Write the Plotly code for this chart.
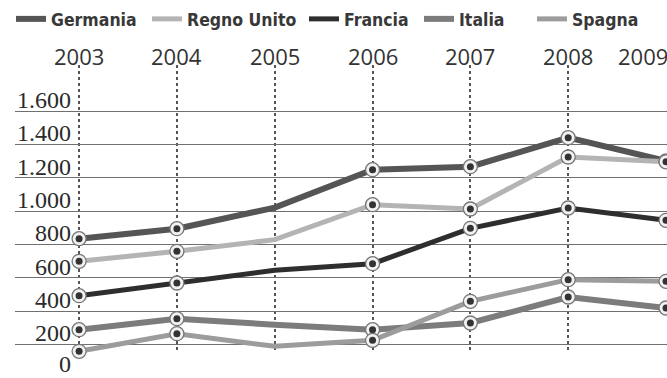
import plotly.graph_objects as go

years = [2003, 2004, 2005, 2006, 2007, 2008, 2009]
year_labels = ["2003", "2004", "2005", "2006", "2007", "2008", "2009"]
marked = [True, True, False, True, True, True, True]

germania = [834, 894, 1020, 1248, 1266, 1440, 1300]
regno_unito = [698, 758, 828, 1038, 1012, 1324, 1295]
francia = [492, 568, 644, 684, 896, 1018, 944]
italia = [288, 354, 318, 288, 328, 484, 418]
spagna = [158, 264, 188, 224, 458, 588, 578]

y_ticks = [0, 200, 400, 600, 800, 1000, 1200, 1400, 1600]
y_tick_labels = ["0", "200", "400", "600", "800", "1.000", "1.200", "1.400", "1.600"]

series = [
    ("Germania", germania, "#555555", 6),
    ("Regno Unito", regno_unito, "#b4b4b4", 5),
    ("Francia", francia, "#2e2e2e", 5),
    ("Italia", italia, "#7c7c7c", 6),
    ("Spagna", spagna, "#9c9c9c", 5),
]
# left edge (px) of each legend entry's text in the 667px-wide figure
legend_text_x = [52, 188, 345, 460, 573]

W, H = 667, 378
fig = go.Figure()
# empty trace so the dotted-grid subplot exists
fig.add_trace(go.Scatter(x=[], y=[], xaxis="x", yaxis="y", showlegend=False, hoverinfo="skip"))

legend_font = dict(family="DejaVu Sans Condensed, DejaVu Sans, sans-serif", size=17.5,
                   color="#383838", weight="bold")
legend_layouts = {}
for i, ((name, vals, color, w), tx) in enumerate(zip(series, legend_text_x)):
    lg = "legend" if i == 0 else f"legend{i + 1}"
    fig.add_trace(go.Scatter(
        x=years, y=vals, mode="lines", name=name,
        line=dict(color=color, width=w), legend=lg,
        xaxis="x2", yaxis="y2", hoverinfo="skip",
    ))
    legend_layouts[lg] = dict(
        orientation="h", x=(tx - 41) / W, xref="container", xanchor="left",
        y=1 - 19 / H, yref="container", yanchor="middle",
        font=legend_font, itemwidth=30, bgcolor="rgba(0,0,0,0)",
    )

for name, vals, color, w in series:
    mx = [x for x, m in zip(years, marked) if m]
    my = [v for v, m in zip(vals, marked) if m]
    fig.add_trace(go.Scatter(
        x=mx, y=my, mode="markers", showlegend=False,
        marker=dict(size=14, color="#f2f2f2", line=dict(color="#777777", width=1.3)),
        xaxis="x2", yaxis="y2", hoverinfo="skip",
    ))
    fig.add_trace(go.Scatter(
        x=mx, y=my, mode="markers", showlegend=False,
        marker=dict(size=7, color="#333333", line=dict(width=0)),
        xaxis="x2", yaxis="y2", hoverinfo="skip",
    ))

for v, t in zip(y_ticks, y_tick_labels):
    fig.add_annotation(
        x=years[0], y=v, xref="x2", yref="y2", text=t, showarrow=False,
        xanchor="right", yanchor="bottom", xshift=-6, yshift=-4 if v else -1,
        font=dict(family="Liberation Serif", size=24, color="#2a2a2a"),
    )

plot_top, plot_h = 62, 316
for i, (x, t) in enumerate(zip(years, year_labels)):
    last = i == len(years) - 1
    fig.add_annotation(
        x=x, y=1 + (plot_top - 56) / plot_h, xref="x", yref="paper", text=t,
        showarrow=False, xanchor="right" if last else "center", yanchor="middle",
        xshift=4 if last else 0,
        font=dict(family="Open Sans", size=22, color="#333333"),
    )

xr = [2002.345, 2009.01]
fig.update_layout(
    width=W, height=H,
    margin=dict(l=15, r=0, t=plot_top, b=0),
    paper_bgcolor="white", plot_bgcolor="rgba(0,0,0,0)",
    showlegend=True,
    **legend_layouts,
    xaxis=dict(
        range=xr, side="top", anchor="y", tickvals=years, showticklabels=False,
        showgrid=True, griddash="dot", gridcolor="#555555", gridwidth=1.5,
        zeroline=False, showline=False, ticks="", automargin=False,
    ),
    yaxis=dict(domain=[0.09, 0.99], range=[0, 1], visible=False, showgrid=False),
    xaxis2=dict(matches="x", anchor="y2", visible=False, showgrid=False),
    yaxis2=dict(
        domain=[0.0, 1.0], range=[-2, 1894], tickvals=y_ticks, showticklabels=False,
        showgrid=True, gridcolor="#707070", gridwidth=1.3, zeroline=False, showline=False,
        ticks="", automargin=False,
    ),
)

fig.write_html("out.html")
